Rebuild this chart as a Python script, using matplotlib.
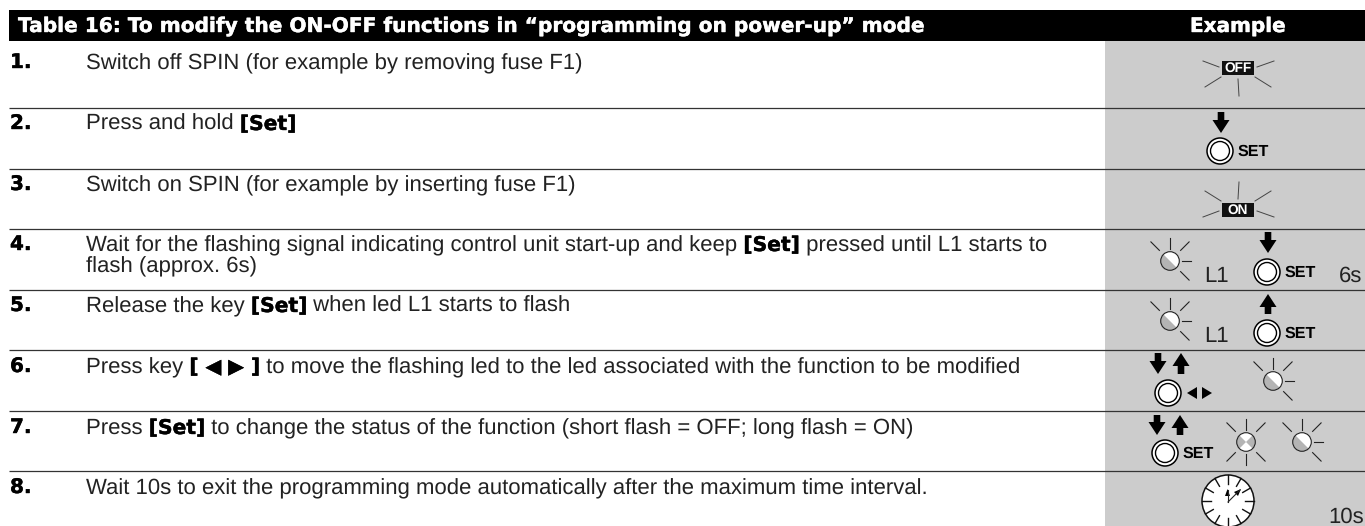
import numpy as np
import matplotlib
matplotlib.use('Agg')
import matplotlib.pyplot as plt
import matplotlib.patheffects as pe
from matplotlib.patches import Circle, Polygon, Rectangle, Wedge

title = 'Table 16: To modify the ON-OFF functions in “programming on power-up” mode'
example = 'Example'
numbers = ['1.', '2.', '3.', '4.', '5.', '6.', '7.', '8.']
# each row is a list of text pieces, (text, bold)
rows = [
    [[('Switch off SPIN (for example by removing fuse F1)', False)]],
    [[('Press and hold ', False), ('[Set]', True)]],
    [[('Switch on SPIN (for example by inserting fuse F1)', False)]],
    [[('Wait for the flashing signal indicating control unit start-up and keep ', False), ('[Set]', True),
      (' pressed until L1 starts to', False)],
     [('flash (approx. 6s)', False)]],
    [[('Release the key ', False), ('[Set]', True), (' when led L1 starts to flash', False)]],
    [[('Press key ', False), ('[ ◀ ▶ ]', True),
      (' to move the flashing led to the led associated with the function to be modified', False)]],
    [[('Press ', False), ('[Set]', True),
      (' to change the status of the function (short flash = OFF; long flash = ON)', False)]],
    [[('Wait 10s to exit the programming mode automatically after the maximum time interval.', False)]],
]
row_y = [69, 130, 191, 251, 312, 373, 434, 494]
rule_y = [108, 169, 229, 290, 350, 411, 471]

GREY = '#cccccc'
INK = '#222222'
FS = 15.9
FS_BOLD = 14.6

plt.rcParams['text.hinting'] = 'no_hinting'

fig = plt.figure(figsize=(13.65, 5.26), dpi=100)
ax = fig.add_axes([0, 0, 1, 1])
ax.set_xlim(0, 1365)
ax.set_ylim(526, 0)
ax.axis('off')

# background blocks
ax.add_patch(Rectangle((1105, 41), 260, 485, color=GREY, lw=0))
ax.add_patch(Rectangle((9, 10), 1356, 31, color='black', lw=0))
for y in rule_y:
    ax.plot([9, 1365], [y, y], color='#333333', lw=0.9, solid_capstyle='butt')

heavy_white = [pe.withStroke(linewidth=0.3, foreground='white')]
heavy_black = [pe.withStroke(linewidth=0.3, foreground='black')]

ax.text(18, 32, title, color='white', fontsize=14.5, family='DejaVu Sans', weight='bold', va='baseline',
        path_effects=heavy_white)
ax.text(1190, 32, example, color='white', fontsize=14.4, family='DejaVu Sans', weight='bold', va='baseline',
        path_effects=heavy_white)


def draw_pieces(x, y, pieces):
    r = fig.canvas.get_renderer()
    for s, bold in pieces:
        if bold:
            t = ax.text(x, y, s, fontsize=FS_BOLD, family='DejaVu Sans', weight='bold', color='black', va='baseline',
                        path_effects=heavy_black)
        else:
            t = ax.text(x, y, s, fontsize=FS, family='Liberation Sans', color=INK, va='baseline')
        x += t.get_window_extent(r).width


for n, y, lines in zip(numbers, row_y, rows):
    ax.text(10, y - 1, n, fontsize=14.4, family='DejaVu Sans', weight='bold', color='black', va='baseline',
            path_effects=heavy_black)
    for i, pieces in enumerate(lines):
        draw_pieces(86, y + i * 21, pieces)


def arrow(x, y0, y1):
    # shaft and head between y0 (tail) and y1 (tip)
    d = 1 if y1 > y0 else -1
    pts = [(x - 3.3, y0), (x + 3.3, y0), (x + 3.3, y1 - d * 13), (x + 8.5, y1 - d * 13), (x, y1),
           (x - 8.5, y1 - d * 13), (x - 3.3, y1 - d * 13)]
    ax.add_patch(Polygon(pts, color='black', lw=0))


def button(x, y, label=None):
    ax.add_patch(Circle((x, y), 13, fc='white', ec='black', lw=1.1))
    ax.add_patch(Circle((x, y), 9.5, fc='white', ec='black', lw=1.0))
    if label:
        ax.text(x + 18, y + 0.5, label, fontsize=11.6, family='Liberation Sans', weight='bold', color='black',
                va='center')


def led(x, y, cross=False):
    ax.add_patch(Circle((x, y), 9.3, fc='white', ec='none'))
    if cross:
        ax.add_patch(Wedge((x, y), 9.3, -45, 45, fc='#b4b4b4', ec='none'))
        ax.add_patch(Wedge((x, y), 9.3, 135, 225, fc='#b4b4b4', ec='none'))
    else:
        ax.add_patch(Wedge((x, y), 9.3, 45, 225, fc='#b4b4b4', ec='none'))
    ax.add_patch(Circle((x, y), 9.3, fc='none', ec='#222222', lw=0.8))
    rays = [(90, 12, 23), (135, 15, 27), (45, 15, 27), (-45, 15, 27)]
    if cross:
        rays += [(-90, 12, 23), (-135, 15, 27)]
    else:
        rays += [(0, 12, 21)]
    for a, r0, r1 in rays:
        c, s = np.cos(np.radians(a)), np.sin(np.radians(a))
        ax.plot([x + r0 * c, x + r1 * c], [y - r0 * s, y - r1 * s], color='#222222', lw=0.8)


def flash(cx, cy, label, up):
    ax.add_patch(Rectangle((cx - 16, cy - 7), 32, 14, color='#111111', lw=0))
    ax.text(cx, cy + 0.3, label, fontsize=9.8, family='Liberation Sans', weight='bold', color='white', ha='center',
            va='center')
    segs = [((-19, -1), (-35, -7)), ((19, -1), (36, -7)), ((-17, 9), (-33, 19)), ((17, 9), (33, 19)),
            ((0, 11), (1, 28))]
    for (x0, y0), (x1, y1) in segs:
        if up:
            y0, y1 = -y0, -y1
        ax.plot([cx + x0, cx + x1], [cy + y0, cy + y1], color='#444444', lw=0.7)


# example column
flash(1238, 68, 'OFF', False)
arrow(1221, 112, 133)
button(1220, 151, 'SET')
flash(1238, 210, 'ON', True)

led(1170, 261)
ax.text(1204, 282, 'L1', fontsize=FS, family='Liberation Sans', color=INK)
arrow(1268, 232, 253)
button(1267, 272, 'SET')
ax.text(1339, 282, '6s', fontsize=FS, family='Liberation Sans', color=INK)

led(1170, 321)
ax.text(1204, 342, 'L1', fontsize=FS, family='Liberation Sans', color=INK)
arrow(1268, 314, 294)
button(1267, 333, 'SET')

arrow(1158, 353, 374)
arrow(1181, 374, 353)
button(1168, 393)
ax.add_patch(Polygon([(1187, 393), (1197, 387), (1197, 399)], color='black', lw=0))
ax.add_patch(Polygon([(1212, 393), (1202, 387), (1202, 399)], color='black', lw=0))
led(1273, 381)

arrow(1157, 415, 435)
arrow(1180, 435, 415)
button(1165, 453, 'SET')
led(1246, 442, cross=True)
led(1302, 442)

# clock, runs off the bottom of the picture
ax.add_patch(Circle((1228, 501), 26, fc='white', ec='#111111', lw=1.1))
for a in range(0, 360, 30):
    c, s = np.cos(np.radians(a)), np.sin(np.radians(a))
    ax.plot([1228 + 17 * c, 1228 + 26 * c], [501 + 17 * s, 501 + 26 * s], color='#111111', lw=1.0)
ax.plot([1228, 1228], [502, 490], color='#222222', lw=0.8)
ax.plot([1228, 1240], [502, 490], color='#222222', lw=0.8)
ax.add_patch(Polygon([(1227.5, 489), (1225, 496), (1230, 496)], color='black', lw=0))
ax.add_patch(Polygon([(1241, 489), (1234, 492), (1238, 496)], color='black', lw=0))
ax.text(1328, 523, '10s', fontsize=FS, family='Liberation Sans', color=INK)

fig.savefig('out.png', dpi=100)
